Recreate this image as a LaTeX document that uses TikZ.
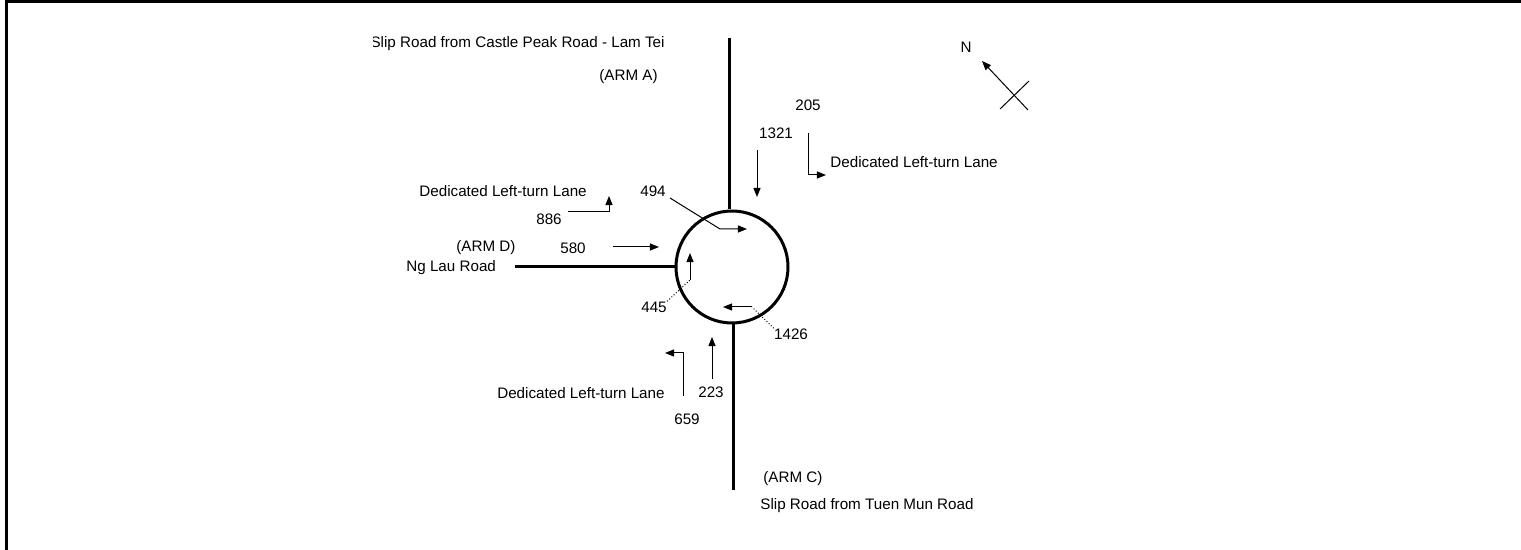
\documentclass[tikz,border=0pt]{standalone}
\usepackage{fontspec}
\setmainfont{Liberation Sans}
\usetikzlibrary{arrows.meta}
\begin{document}
\begin{tikzpicture}[x=0.5pt,y=-0.5pt,
  lbl/.style={font=\fontsize{7.6}{9}\selectfont, inner sep=0pt},
  road/.style={line width=1.5pt},
  thin/.style={line width=0.5pt},
  flow/.style={line width=0.5pt,-{Triangle[length=4.6pt,width=3.6pt]}},
  dotleader/.style={line width=0.5pt, densely dotted}]
\useasboundingbox (0,0) rectangle (1521,550);
% frame
\coordinate (fb) at (6,551);
\coordinate (fc) at (6,2);
\coordinate (fr) at (1522,2);
\draw[road] (fb) -- (fc) -- (fr);
% roundabout
\node[draw, circle, line width=1.5pt, minimum size=56pt, inner sep=0pt] (rb) at (732,267) {};
\coordinate (armAend) at (729,38);
\coordinate (armDend) at (515,267);
\coordinate (armCend) at (733,490);
\draw[road] (armAend) -- (armAend |- rb.north);
\draw[road] (armDend) -- (rb.west);
\draw[road] (armCend) -- (armCend |- rb.south);
% labels
\begin{scope}
\clip (373,20) rectangle (700,70);
\node[lbl, anchor=east] (slipA) at (665,44) {Slip Road from Castle Peak Road - Lam Tei};
\end{scope}
\node[lbl, anchor=east] (armA) at (658,77) {(ARM A)};
\node[lbl] (N) at (966,47) {N};
\node[lbl] (l205) at (808,105) {205};
\node[lbl] (l1321) at (776,133) {1321};
\node[lbl, anchor=west] (ltlA) at (830,162) {Dedicated Left-turn Lane};
\node[lbl, anchor=west] (ltlD) at (419,191) {Dedicated Left-turn Lane};
\node[lbl] (l886) at (549,219) {886};
\node[lbl] (l494) at (653,191) {494};
\node[lbl, anchor=west] (armD) at (456,248) {(ARM D)};
\node[lbl] (l580) at (573,248) {580};
\node[lbl, anchor=west] (nglau) at (406,268) {Ng Lau Road};
\node[lbl] (l445) at (654,307) {445};
\node[lbl] (l1426) at (791,334) {1426};
\node[lbl] (l223) at (711,392) {223};
\node[lbl, anchor=east] (ltlC) at (665,393) {Dedicated Left-turn Lane};
\node[lbl] (l659) at (687,419) {659};
\node[lbl, anchor=west] (armC) at (763,479) {(ARM C)};
\node[lbl, anchor=west] (slipC) at (760,506) {Slip Road from Tuen Mun Road};
% north arrow
\coordinate (nt) at (1028,110);
\coordinate (nh) at (982,61);
\coordinate (x1) at (1000,109);
\coordinate (x2) at (1029,81);
\draw[flow] (nt) -- (nh);
\draw[thin] (x1) -- (x2);
% arm A flows
\coordinate (a1321s) at (757,150);
\coordinate (a1321e) at (757,197);
\draw[flow] (a1321s) -- (a1321e);
\coordinate (a205s) at (808,133);
\coordinate (a205b) at (808,175);
\coordinate (a205e) at (826,175);
\draw[flow] (a205s) -- (a205b) -- (a205e);
% arm D flows
\coordinate (a886s) at (568,212);
\coordinate (a886b) at (609,212);
\coordinate (a886e) at (609,196);
\draw[flow] (a886s) -- (a886b) -- (a886e);
\coordinate (a580s) at (613,247);
\coordinate (a580e) at (659,247);
\draw[flow] (a580s) -- (a580e);
% 494
\coordinate (a494s) at (670,198);
\coordinate (a494b) at (720,229);
\coordinate (a494e) at (747,229);
\draw[flow] (a494s) -- (a494b) -- (a494e);
% 445
\coordinate (a445s) at (690,280);
\coordinate (a445e) at (690,253);
\draw[flow] (a445s) -- (a445e);
\draw[dotleader] (l445.north east) -- (a445s);
% 1426
\coordinate (a1426s) at (752,307);
\coordinate (a1426e) at (723,307);
\draw[flow] (a1426s) -- (a1426e);
\draw[dotleader] (l1426.north west) -- (a1426s);
% arm C flows
\coordinate (a223s) at (712,379);
\coordinate (a223e) at (712,337);
\draw[flow] (a223s) -- (a223e);
\coordinate (a659s) at (683,396);
\coordinate (a659b) at (683,353);
\coordinate (a659e) at (665,353);
\draw[flow] (a659s) -- (a659b) -- (a659e);
\end{tikzpicture}
\end{document}
